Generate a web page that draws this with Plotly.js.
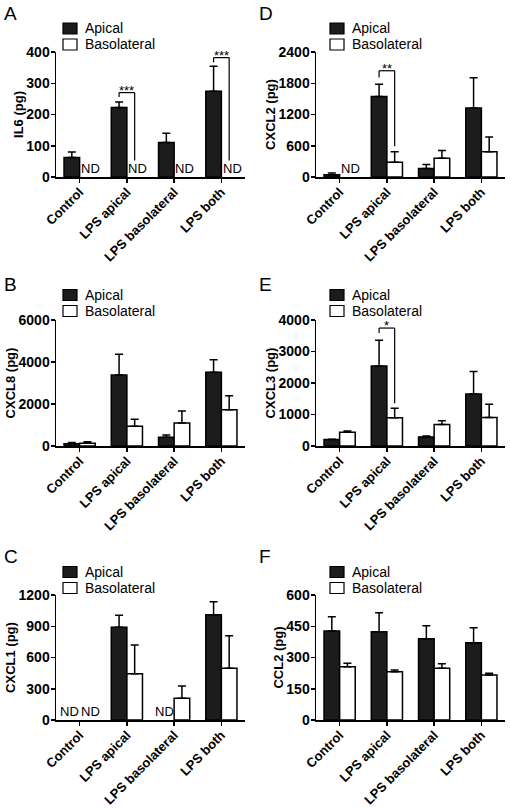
<!DOCTYPE html>
<html><head><meta charset="utf-8">
<script src="https://cdn.plot.ly/plotly-3.0.1.min.js"></script>
<style>html,body{margin:0;padding:0;background:#fff}#chart{width:510px;height:808px}</style>
</head><body><div id="chart"></div>
<script>
// ---- data ----
const categories = ['Control', 'LPS apical', 'LPS basolateral', 'LPS both'];
const seriesNames = ['Apical', 'Basolateral'];
const seriesFill = ['#1c1c1c', '#ffffff'];

// A: IL6
const il6Apical = [62, 222, 110, 274];
const il6ApicalErr = [18, 18, 30, 80];
const il6Baso = [null, null, null, null];
const il6BasoErr = [0, 0, 0, 0];
const il6Ticks = [0, 100, 200, 300, 400];
const il6SigCat = [1, 3];
const il6SigTop = [270, 382];
const il6SigLeft = [256, 367];
const il6SigRight = [53, 53];
const il6SigLabel = ['***', '***'];

// D: CXCL2
const cxcl2Apical = [45, 1544, 161, 1326];
const cxcl2ApicalErr = [32, 238, 77, 579];
const cxcl2Baso = [null, 283, 360, 483];
const cxcl2BasoErr = [0, 200, 148, 283];
const cxcl2Ticks = [0, 600, 1200, 1800, 2400];
const cxcl2SigCat = [1];
const cxcl2SigTop = [2040];
const cxcl2SigLeft = [1911];
const cxcl2SigRight = [592];
const cxcl2SigLabel = ['**'];

// B: CXCL8
const cxcl8Apical = [110, 3381, 413, 3508];
const cxcl8ApicalErr = [60, 984, 111, 603];
const cxcl8Baso = [130, 937, 1095, 1730];
const cxcl8BasoErr = [75, 333, 572, 667];
const cxcl8Ticks = [0, 2000, 4000, 6000];

// E: CXCL3
const cxcl3Apical = [203, 2539, 288, 1653];
const cxcl3ApicalErr = [15, 821, 32, 715];
const cxcl3Baso = [437, 896, 683, 907];
const cxcl3BasoErr = [43, 299, 117, 416];
const cxcl3Ticks = [0, 1000, 2000, 3000, 4000];
const cxcl3SigCat = [1];
const cxcl3SigTop = [3744];
const cxcl3SigLeft = [3584];
const cxcl3SigRight = [1355];
const cxcl3SigLabel = ['*'];

// C: CXCL1
const cxcl1Apical = [null, 890, null, 1011];
const cxcl1ApicalErr = [0, 115, 0, 125];
const cxcl1Baso = [null, 445, 208, 496];
const cxcl1BasoErr = [0, 275, 118, 314];
const cxcl1Ticks = [0, 300, 600, 900, 1200];

// F: CCL2
const ccl2Apical = [427, 424, 390, 371];
const ccl2ApicalErr = [69, 91, 63, 72];
const ccl2Baso = [256, 232, 248, 216];
const ccl2BasoErr = [16, 8, 22, 8];
const ccl2Ticks = [0, 150, 300, 450, 600];

// ---- panel configuration ----
const panels = [
  {letter: 'A', title: 'IL6 (pg)', a: il6Apical, ae: il6ApicalErr, b: il6Baso, be: il6BasoErr, ticks: il6Ticks, col: 0, row: 0,
   sig: {cat: il6SigCat, top: il6SigTop, left: il6SigLeft, right: il6SigRight, label: il6SigLabel}},
  {letter: 'D', title: 'CXCL2 (pg)', a: cxcl2Apical, ae: cxcl2ApicalErr, b: cxcl2Baso, be: cxcl2BasoErr, ticks: cxcl2Ticks, col: 1, row: 0,
   sig: {cat: cxcl2SigCat, top: cxcl2SigTop, left: cxcl2SigLeft, right: cxcl2SigRight, label: cxcl2SigLabel}},
  {letter: 'B', title: 'CXCL8 (pg)', a: cxcl8Apical, ae: cxcl8ApicalErr, b: cxcl8Baso, be: cxcl8BasoErr, ticks: cxcl8Ticks, col: 0, row: 1, sig: null},
  {letter: 'E', title: 'CXCL3 (pg)', a: cxcl3Apical, ae: cxcl3ApicalErr, b: cxcl3Baso, be: cxcl3BasoErr, ticks: cxcl3Ticks, col: 1, row: 1,
   sig: {cat: cxcl3SigCat, top: cxcl3SigTop, left: cxcl3SigLeft, right: cxcl3SigRight, label: cxcl3SigLabel}},
  {letter: 'C', title: 'CXCL1 (pg)', a: cxcl1Apical, ae: cxcl1ApicalErr, b: cxcl1Baso, be: cxcl1BasoErr, ticks: cxcl1Ticks, col: 0, row: 2, sig: null},
  {letter: 'F', title: 'CCL2 (pg)', a: ccl2Apical, ae: ccl2ApicalErr, b: ccl2Baso, be: ccl2BasoErr, ticks: ccl2Ticks, col: 1, row: 2, sig: null}
];

const W = 510, H = 808;
const colDomains = [[56 / W, 245 / W], [316 / W, 505 / W]];
const rowDomains = [[1 - 177 / H, 1 - 52 / H], [1 - 446 / H, 1 - 320 / H], [1 - 720 / H, 1 - 595 / H]];
const letterTop = [1, 272, 544];
const letterLeft = [2, 257];
// legend key placement (pixels)
const keyLeft = [63, 330];
const keyCenters = [[28.5, 44.5], [295, 311], [572, 588]];
const keyW = 14, keyH = 11, keyTextGap = 7;

const FONT = 'Liberation Sans, Arial, Helvetica, sans-serif';
const half = 0.165;
const ndShift = [-2, 3];

const traces = [];
const layout = {
  width: W, height: H,
  margin: {l: 0, r: 0, t: 0, b: 0},
  paper_bgcolor: '#fff', plot_bgcolor: '#fff',
  barmode: 'group', bargap: 0.34, bargroupgap: 0,
  showlegend: false,
  font: {family: FONT, color: '#000'},
  annotations: [], shapes: []
};

panels.forEach((p, k) => {
  const n = k + 1;
  const xa = 'x' + (n === 1 ? '' : n), ya = 'y' + (n === 1 ? '' : n);
  const xKey = 'xaxis' + (n === 1 ? '' : n), yKey = 'yaxis' + (n === 1 ? '' : n);
  const zeros = p.a.map(() => 0);

  [[p.a, p.ae], [p.b, p.be]].forEach((s, si) => {
    traces.push({
      type: 'bar', name: seriesNames[si], x: categories, y: s[0], xaxis: xa, yaxis: ya,
      marker: {color: seriesFill[si], line: {color: '#000', width: 1.5}},
      error_y: {type: 'data', array: s[1], arrayminus: zeros, symmetric: false, color: '#000', thickness: 1.5, width: 4},
      hoverinfo: 'skip'
    });
  });

  layout[xKey] = {
    domain: colDomains[p.col], anchor: ya, type: 'category', categoryorder: 'array', categoryarray: categories,
    range: [-0.5, 3.5], showline: true, linecolor: '#000', linewidth: 1.5, ticks: 'outside', ticklen: 4, tickwidth: 1.5, tickcolor: '#000',
    tickangle: -45, ticklabelstandoff: -3,
    tickfont: {family: FONT, size: 13, weight: 'bold', color: '#000'}, showgrid: false, zeroline: false, fixedrange: true
  };
  const top = p.ticks[p.ticks.length - 1];
  layout[yKey] = {
    domain: rowDomains[p.row], anchor: xa, range: [0, top], tickmode: 'array', tickvals: p.ticks, ticktext: p.ticks.map(String),
    showline: true, linecolor: '#000', linewidth: 1.5, ticks: 'outside', ticklen: 4, tickwidth: 1.5, tickcolor: '#000',
    ticklabelstandoff: -2,
    tickfont: {family: FONT, size: 14, weight: 'bold', color: '#000'}, showgrid: false, zeroline: false, fixedrange: true,
    title: {text: p.title, font: {family: FONT, size: 13, weight: 'bold', color: '#000'}, standoff: 0}
  };

  // legend key (one per panel, as in the figure)
  seriesNames.forEach((nm, si) => {
    const cy = keyCenters[p.row][si];
    const x0 = keyLeft[p.col];
    layout.shapes.push({
      type: 'rect', xref: 'paper', yref: 'paper',
      x0: x0 / W, x1: (x0 + keyW) / W, y0: 1 - (cy - keyH / 2) / H, y1: 1 - (cy + keyH / 2) / H,
      fillcolor: seriesFill[si], line: {color: '#000', width: 1.2}
    });
    layout.annotations.push({
      xref: 'paper', yref: 'paper', x: (x0 + keyW + keyTextGap) / W, y: 1 - cy / H, xanchor: 'left', yanchor: 'middle',
      text: nm, showarrow: false, borderpad: 0, font: {family: FONT, size: 14, color: '#000'}
    });
  });

  // panel letter
  layout.annotations.push({
    xref: 'paper', yref: 'paper', x: letterLeft[p.col] / W, y: 1 - letterTop[p.row] / H, xanchor: 'left', yanchor: 'top',
    text: p.letter, showarrow: false, font: {family: FONT, size: 19, color: '#000'}
  });

  // ND labels where a value is not detected
  [p.a, p.b].forEach((vals, s) => {
    vals.forEach((v, i) => {
      if (v === null) {
        layout.annotations.push({
          xref: xa, yref: ya, x: i + (s === 0 ? -half : half), y: 0, xanchor: 'center', yanchor: 'bottom', xshift: ndShift[s], yshift: -1,
          text: 'ND', showarrow: false, font: {family: FONT, size: 13, color: '#000'}
        });
      }
    });
  });

  // significance brackets
  if (p.sig) {
    p.sig.cat.forEach((c, j) => {
      const x0 = c - half, x1 = c + half;
      const ln = {color: '#000', width: 1.2};
      layout.shapes.push({type: 'line', xref: xa, yref: ya, x0: x0, x1: x0, y0: p.sig.left[j], y1: p.sig.top[j], line: ln});
      layout.shapes.push({type: 'line', xref: xa, yref: ya, x0: x0, x1: x1, y0: p.sig.top[j], y1: p.sig.top[j], line: ln});
      layout.shapes.push({type: 'line', xref: xa, yref: ya, x0: x1, x1: x1, y0: p.sig.top[j], y1: p.sig.right[j], line: ln});
      layout.annotations.push({
        xref: xa, yref: ya, x: c, y: p.sig.top[j], xanchor: 'center', yanchor: 'bottom', yshift: -6, borderpad: 0,
        text: p.sig.label[j], showarrow: false, font: {family: FONT, size: 13, color: '#000'}
      });
    });
  }
});

Plotly.newPlot('chart', traces, layout, {staticPlot: true, displayModeBar: false});
</script>
</body></html>
